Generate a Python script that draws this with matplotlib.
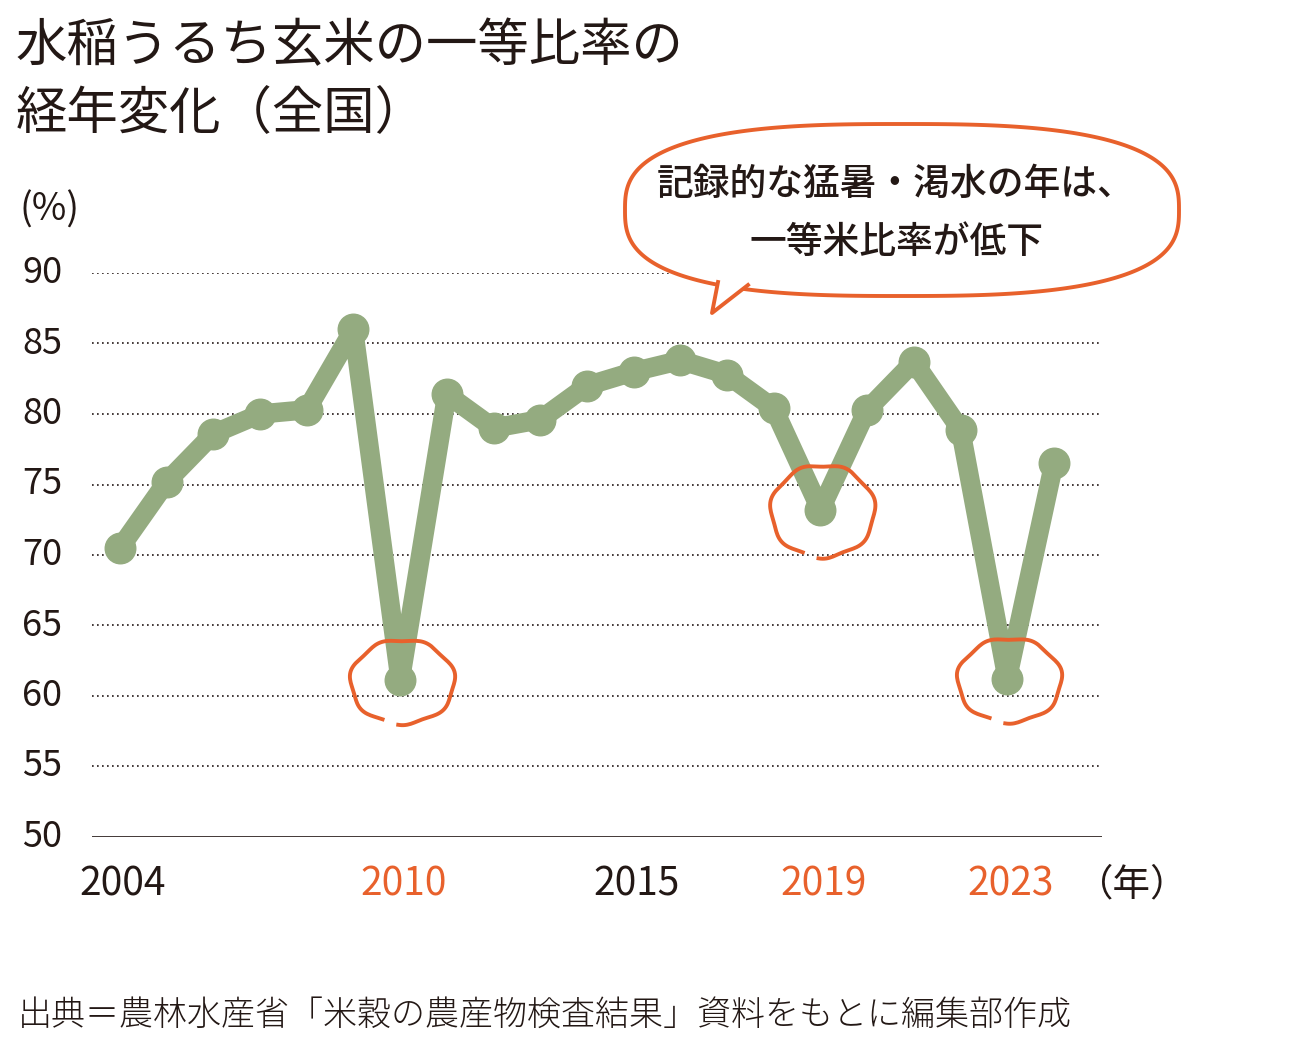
import matplotlib
matplotlib.use("Agg")
import matplotlib.pyplot as plt
import numpy as np

plt.rcParams['font.family'] = ['Noto Sans CJK JP', 'DejaVu Sans']

# 一等比率 (%)
years = [2004, 2005, 2006, 2007, 2008, 2009, 2010, 2011, 2012, 2013, 2014,
         2015, 2016, 2017, 2018, 2019, 2020, 2021, 2022, 2023, 2024]
ratio = [70.5, 75.2, 78.6, 80.0, 80.3, 86.0, 61.1, 81.4, 79.0, 79.6, 82.0,
         83.0, 83.8, 82.8, 80.4, 73.2, 80.3, 83.7, 78.9, 61.2, 76.5]
yticks = [50, 55, 60, 65, 70, 75, 80, 85, 90]
xlabels = ["2004", "2010", "2015", "2019", "2023"]
hot_years = [2010, 2019, 2023]

title = "水稲うるち玄米の一等比率の\n経年変化（全国）"
bubble_text = "記録的な猛暑・渇水の年は、\n一等米比率が低下"
source = "出典＝農林水産省「米穀の農産物検査結果」資料をもとに編集部作成"

green = "#94ab80"
orange = "#e8612c"
ink = "#231815"

W, H = 1294, 1046
fig = plt.figure(figsize=(W / 100, H / 100), dpi=100)

# data axes, placed in pixels
x0, x1, ytop, ybot = 92, 1102, 273, 837
ax = fig.add_axes([x0 / W, 1 - ybot / H, (x1 - x0) / W, (ybot - ytop) / H])
ax.set_xlim(2003.4, 2025.03)
ax.set_ylim(50, 90)
for s in ax.spines.values():
    s.set_visible(False)
ax.set_xticks([])
ax.set_yticks([])
for v in yticks[1:]:
    ax.axhline(v, color=ink, lw=1.2, ls=(0, (1, 2)), zorder=1)
ax.axhline(50, color=ink, lw=1.2, zorder=1)

ax.plot(years, ratio, color=green, lw=14, solid_capstyle="round",
        solid_joinstyle="round", zorder=3, clip_on=False)
ax.plot(years, ratio, "o", color=green, ms=22, zorder=3, clip_on=False)

# hand-drawn style circles around the low years
for yr in hot_years:
    v = ratio[years.index(yr)]
    t = np.linspace(np.radians(265), np.radians(265 + 340), 160)
    r = 1 + 0.03 * np.sin(7 * t) + 0.04 * np.cos(2 * t)
    ry = 3.4 if yr == 2019 else 3.1
    cx, cy = yr + 0.05, v - 0.1
    ax.plot(cx + 1.07 * r * np.cos(t), cy + ry * r * np.sin(t), color=orange,
            lw=2.8, zorder=4, clip_on=False)

# overlay in pixel coordinates for text and bubble
ov = fig.add_axes([0, 0, 1, 1])
ov.set_xlim(0, W)
ov.set_ylim(H, 0)
ov.axis("off")
ov.patch.set_alpha(0)

ov.text(16, 80, title, fontsize=37, color=ink, va="center", ha="left",
        linespacing=1.35)

ov.text(50, 210, "(%)", fontsize=27, color=ink, ha="center", va="center")
for v in yticks:
    py = ybot - (v - 50) / 40 * (ybot - ytop)
    ov.text(42, py, str(v), fontsize=26, color=ink, ha="center", va="center")

for lab in xlabels:
    yr = int(lab)
    px = x0 + (yr - 2003.4) / (2025.03 - 2003.4) * (x1 - x0)
    c = orange if yr in hot_years else ink
    ov.text(px + 3, 885, lab, fontsize=28, color=c, ha="center", va="center")
ov.text(1132, 885, "（年）", fontsize=27, color=ink, ha="center", va="center")

# speech bubble
t = np.linspace(0, 2 * np.pi, 400)
p = 0.72
bx = 902 + 277 * np.sign(np.cos(t)) * np.abs(np.cos(t)) ** p
by = 210 + 86 * np.sign(np.sin(t)) * np.abs(np.sin(t)) ** p
ov.fill(bx, by, facecolor="white", edgecolor=orange, lw=2.8, zorder=5)
ov.fill([718, 712, 748], [282, 313, 285], facecolor="white", edgecolor="none",
        zorder=6)
ov.plot([718, 712, 748], [282, 313, 285], color=orange, lw=2.8, zorder=6)
ov.text(896, 213, bubble_text, fontsize=26.5, color=ink, ha="center",
        va="center", linespacing=1.65, zorder=7, fontweight="medium")

ov.text(18, 1015, source, fontsize=24.5, color=ink, ha="left", va="center",
        fontweight="light")

fig.savefig("out.png", dpi=100)
